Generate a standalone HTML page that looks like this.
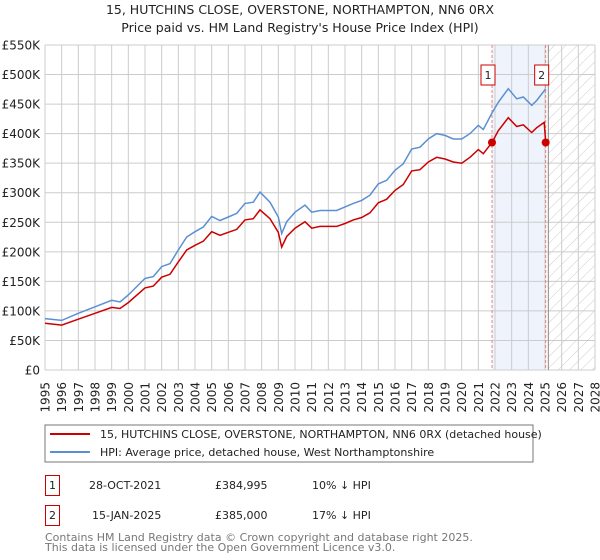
<!DOCTYPE html>
<html><head><meta charset="utf-8"><style>
body{margin:0;background:#fff;}
svg{display:block;font-family:"DejaVu Sans","Liberation Sans",sans-serif;}
</style></head><body>
<svg id="chart" width="600" height="560" viewBox="0 0 600 560">
<defs><pattern id="hatch" width="8" height="8" patternUnits="userSpaceOnUse" patternTransform="rotate(45)"><line x1="0" y1="0" x2="0" y2="8" stroke="#ccc" stroke-width="1"/></pattern></defs>
<text x="300" y="14" text-anchor="middle" font-size="12.5" fill="#222">15, HUTCHINS CLOSE, OVERSTONE, NORTHAMPTON, NN6 0RX</text>
<text x="300" y="32" text-anchor="middle" font-size="12.5" fill="#222">Price paid vs. HM Land Registry's House Price Index (HPI)</text>
<g id="plot"></g>
<rect x="45" y="425" width="488" height="37" fill="#fff" stroke="#777"/>
<line x1="50" y1="434" x2="90" y2="434" stroke="#cc0000" stroke-width="2"/>
<text x="100" y="438" font-size="11" fill="#222">15, HUTCHINS CLOSE, OVERSTONE, NORTHAMPTON, NN6 0RX (detached house)</text>
<line x1="50" y1="452" x2="90" y2="452" stroke="#5b8fd4" stroke-width="2"/>
<text x="100" y="456" font-size="11" fill="#222">HPI: Average price, detached house, West Northamptonshire</text>
<g font-size="11" fill="#222">
<rect x="45.5" y="475.5" width="14" height="20" fill="#fff" stroke="#cc0000"/>
<text x="52.5" y="489" text-anchor="middle">1</text>
<text x="89" y="489">28-OCT-2021</text>
<text x="215" y="489">£384,995</text>
<text x="312" y="489">10% ↓ HPI</text>
<rect x="45.5" y="505.5" width="14" height="20" fill="#fff" stroke="#cc0000"/>
<text x="52.5" y="519" text-anchor="middle">2</text>
<text x="92" y="519">15-JAN-2025</text>
<text x="215" y="519">£385,000</text>
<text x="312" y="519">17% ↓ HPI</text>
</g>
<text x="45" y="541" font-size="11" fill="#777">Contains HM Land Registry data © Crown copyright and database right 2025.</text>
<text x="45" y="551" font-size="11" fill="#777">This data is licensed under the Open Government Licence v3.0.</text>
</svg>
<script>
const hpiYears=[1995,1996,1997,1998,1999,1999.5,2000,2001,2001.5,2002,2002.5,2003,2003.5,2004,2004.5,2005,2005.5,2006,2006.5,2007,2007.5,2007.9,2008.5,2009,2009.2,2009.5,2010,2010.6,2011,2011.5,2012,2012.5,2013,2013.5,2014,2014.5,2015,2015.5,2016,2016.5,2017,2017.5,2018,2018.5,2019,2019.5,2020,2020.5,2021,2021.3,2021.8,2022.2,2022.8,2023.3,2023.7,2024.2,2024.5,2025.05];
const hpiValues=[87,84,96,107,118,115,127,155,158,175,180,203,225,234,242,260,253,259,265,282,284,301,284,259,231,251,267,279,267,270,270,270,276,282,287,296,315,321,338,349,374,377,391,400,397,391,391,400,414,407,434,453,476,459,462,448,456,476];
const propYears=[1995,1996,1997,1998,1999,1999.5,2000,2001,2001.5,2002,2002.5,2003,2003.5,2004,2004.5,2005,2005.5,2006,2006.5,2007,2007.5,2007.9,2008.5,2009,2009.2,2009.5,2010,2010.6,2011,2011.5,2012,2012.5,2013,2013.5,2014,2014.5,2015,2015.5,2016,2016.5,2017,2017.5,2018,2018.5,2019,2019.5,2020,2020.5,2021,2021.3,2021.82,2022.2,2022.8,2023.3,2023.7,2024.2,2024.5,2024.95,2025.04];
const propValues=[79,76,86,96,106,104,114,139,142,157,162,183,203,211,218,234,228,233,238,254,256,271,256,233,208,226,240,251,240,243,243,243,248,254,258,266,283,289,304,314,337,339,352,360,357,352,350,360,373,366,385,405,427,412,415,402,410,419,385];
const saleYears=[2021.82,2025.04];
const saleValues=[384.995,385];
const saleLabels=["1","2"];
const yTicks=[0,50,100,150,200,250,300,350,400,450,500,550];
const yTickLabels=["£0","£50K","£100K","£150K","£200K","£250K","£300K","£350K","£400K","£450K","£500K","£550K"];
const xTicks=[1995,1996,1997,1998,1999,2000,2001,2002,2003,2004,2005,2006,2007,2008,2009,2010,2011,2012,2013,2014,2015,2016,2017,2018,2019,2020,2021,2022,2023,2024,2025,2026,2027,2028];

const L=45,R=595,T=45,B=370,X0=1995,X1=2028,YMAX=550;
const xs=v=>L+(v-X0)/(X1-X0)*(R-L);
const ys=v=>B-v/YMAX*(B-T);
const NS="http://www.w3.org/2000/svg";
const g=document.getElementById('plot');
function mk(tag,attrs,parent){const e=document.createElementNS(NS,tag);for(const k in attrs)e.setAttribute(k,attrs[k]);(parent||g).appendChild(e);return e;}

// shaded period
let e=mk('rect',{x:xs(saleYears[0]),y:T,width:xs(saleYears[1])-xs(saleYears[0]),height:B-T,fill:'#eef3fc'});


e=mk('rect',{x:xs(2025.2),y:T,width:R-xs(2025.2),height:B-T,fill:'url(#hatch)'});



xTicks.forEach(t=>{
  const l=mk('line',{x1:xs(t),x2:xs(t),y1:T,y2:B,stroke:'#ccc','stroke-width':1});
  
  
  const tx=mk('text',{x:0,y:0,'font-size':12,fill:'#222','text-anchor':'end',transform:`translate(${xs(t)+4.5},${B+12}) rotate(-90)`});
  tx.textContent=t;
  
  
});
yTicks.forEach((t,i)=>{
  const l=mk('line',{x1:L,x2:R,y1:ys(t),y2:ys(t),stroke:'#ccc','stroke-width':1});
  
  
  const tx=mk('text',{x:L-5,y:ys(t)+4.5,'font-size':12,fill:'#222','text-anchor':'end'});
  tx.textContent=yTickLabels[i];
  
  
});
e=mk('line',{x1:xs(2025.2),x2:xs(2025.2),y1:T,y2:B,stroke:'#888','stroke-width':1});



saleYears.forEach((s,i)=>{
  const l=mk('line',{x1:xs(s),x2:xs(s),y1:T,y2:B,stroke:'#f08080','stroke-width':1,'stroke-dasharray':'3,2'});
  
  
});

const path=(xsA,vA)=>xsA.map((x,i)=>(i?'L':'M')+xs(x).toFixed(1)+','+ys(vA[i]).toFixed(1)).join('');
e=mk('path',{d:path(hpiYears,hpiValues),fill:'none',stroke:'#5b8fd4','stroke-width':1.5});


e=mk('path',{d:path(propYears,propValues),fill:'none',stroke:'#cc0000','stroke-width':1.5});



saleYears.forEach((s,i)=>{
  const c=mk('circle',{cx:xs(s),cy:ys(saleValues[i]),r:4,fill:'#cc0000'});
  
  
  const bx=mk('rect',{x:xs(s)-11,y:65,width:14,height:20,fill:'#fff',stroke:'#cc0000'});
  
  
  const tx=mk('text',{x:xs(s)-4,y:79,'font-size':11,fill:'#222','text-anchor':'middle'});
  tx.textContent=saleLabels[i];
  
  
});
</script>
</body></html>
